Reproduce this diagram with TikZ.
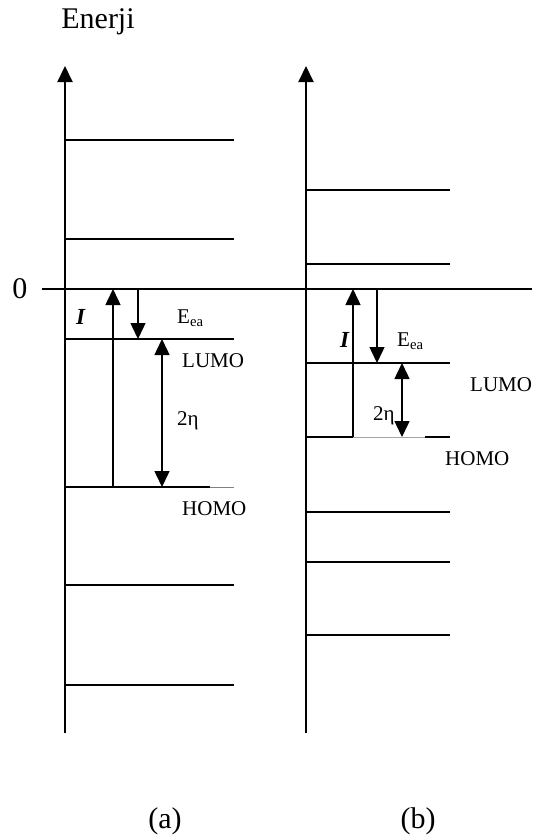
\documentclass[tikz,border=0pt]{standalone}
\usepackage{fontspec}
\setmainfont{Liberation Serif}
\usetikzlibrary{arrows.meta}

\begin{document}
\begin{tikzpicture}[x=1pt,y=-1pt,
    lvl/.style={line width=2pt},
    arr/.style={line width=1.5pt,-{Triangle[width=15pt,length=16pt]}},
    darr/.style={line width=1.5pt,{Triangle[width=15pt,length=16pt]}-{Triangle[width=15pt,length=16pt]}},
    lab/.style={anchor=base west,inner sep=0pt,font=\fontsize{21}{25}\selectfont},
    big/.style={anchor=base,inner sep=0pt,font=\fontsize{30}{36}\selectfont}]
    \useasboundingbox (0,0) rectangle (536,838);
    % axes
    \coordinate (A0) at (65,733);
    \coordinate (AT) at (65,66);
    \coordinate (B0) at (306,733);
    \coordinate (BT) at (306,66);
    \draw[lvl,-{Triangle[width=15pt,length=16pt]}] (A0) -- (AT);
    \draw[lvl,-{Triangle[width=15pt,length=16pt]}] (B0) -- (BT);
    % zero of energy
    \coordinate (Z0) at (42,289);
    \coordinate (Z1) at (532,289);
    \draw[lvl] (Z0) -- (Z1);
    % levels (a)
    \foreach \y in {140,239,339,585,685}
      \draw[lvl] (65,\y) -- (234,\y);
    \draw[lvl] (65,487) -- (210,487);
    \draw[gray,line width=1pt] (210,487) -- (234,487);
    % levels (b)
    \foreach \y in {190,264,363,512,562,635}
      \draw[lvl] (306,\y) -- (450,\y);
    \draw[lvl] (306,437) -- (353,437);
    \draw[gray!70,line width=1pt] (353,437) -- (425,437);
    \draw[lvl] (425,437) -- (450,437);
    % transitions (a)
    \coordinate (aIlo) at (113,487);
    \coordinate (aIhi) at (113,289);
    \coordinate (aEhi) at (138,289);
    \coordinate (aElo) at (138,339);
    \coordinate (aGhi) at (162,339);
    \coordinate (aGlo) at (162,487);
    \draw[arr] (aIlo) -- (aIhi);
    \draw[arr] (aEhi) -- (aElo);
    \draw[darr] (aGhi) -- (aGlo);
    % transitions (b)
    \coordinate (bIlo) at (353,437);
    \coordinate (bIhi) at (353,289);
    \coordinate (bEhi) at (377,289);
    \coordinate (bElo) at (377,363);
    \coordinate (bGhi) at (402,363);
    \coordinate (bGlo) at (402,437);
    \draw[arr] (bIlo) -- (bIhi);
    \draw[arr] (bEhi) -- (bElo);
    \draw[darr] (bGhi) -- (bGlo);
    % labels
    \node[big] (enerji) at (98,28) {Enerji};
    \node[big] (zero) at (20,298) {0};
    \node[lab,anchor=base,font=\fontsize{23}{27}\selectfont] (aI) at (81,324) {\textbf{\textit{I}}};
    \node[lab] (aE) at (177,323) {E\textsubscript{ea}};
    \node[lab] (aL) at (182,367) {LUMO};
    \node[lab] (aG) at (177,425) {2η};
    \node[lab] (aH) at (182,515) {HOMO};
    \node[lab,anchor=base,font=\fontsize{23}{27}\selectfont] (bI) at (345,347) {\textbf{\textit{I}}};
    \node[lab] (bE) at (397,346) {E\textsubscript{ea}};
    \node[lab] (bL) at (470,391) {LUMO};
    \node[lab] (bG) at (373,420) {2η};
    \node[lab] (bH) at (445,465) {HOMO};
    \node[big] (capa) at (165,828) {(a)};
    \node[big] (capb) at (418,828) {(b)};
\end{tikzpicture}
\end{document}
